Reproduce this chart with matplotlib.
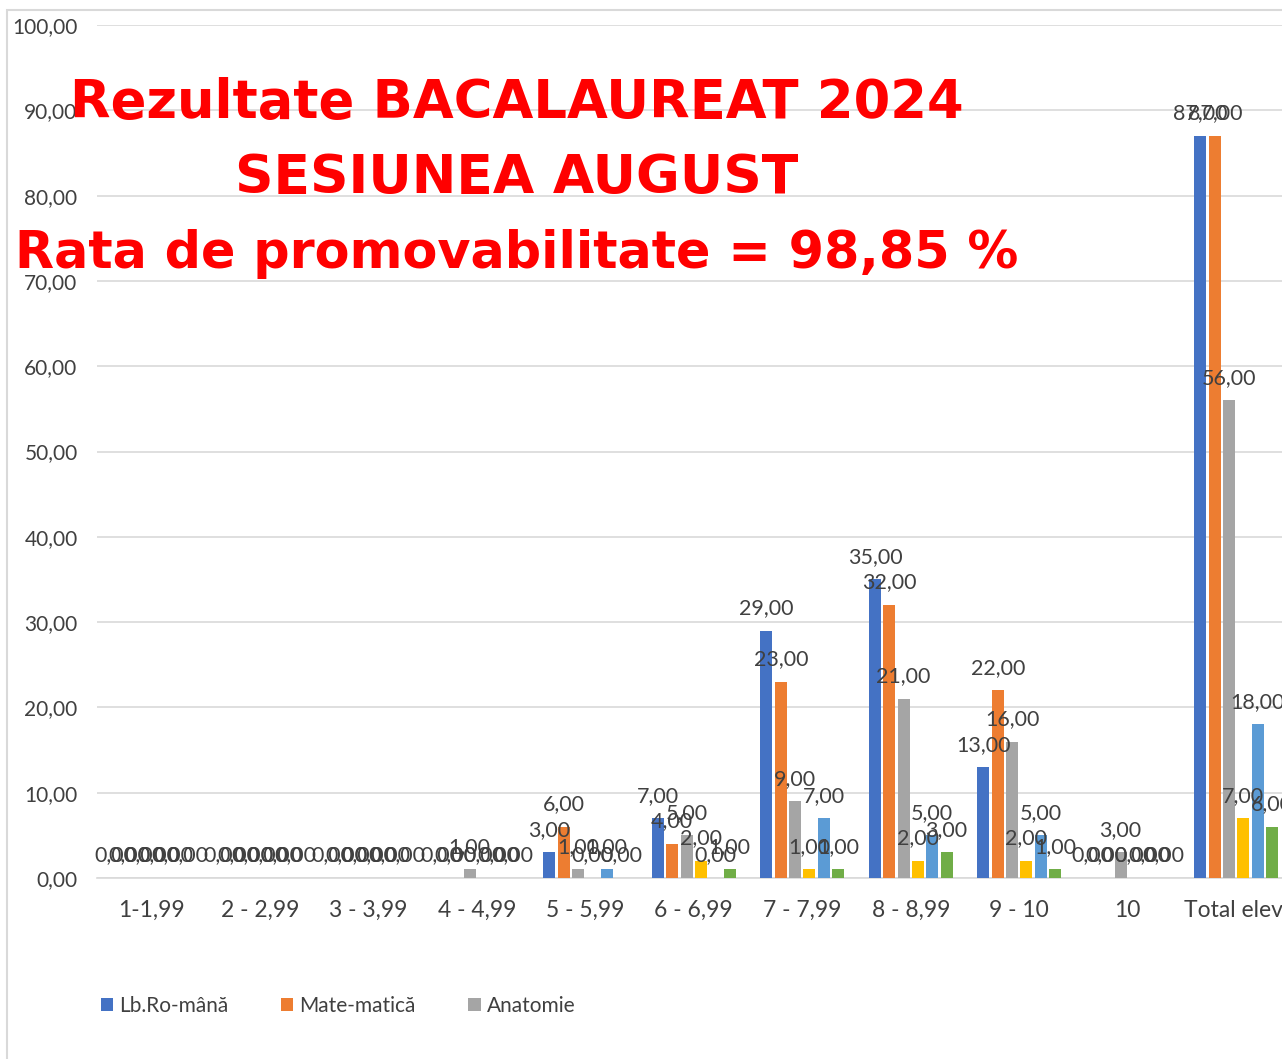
import matplotlib.pyplot as plt
import matplotlib.patches as mpatches
import numpy as np

# categorii si valori
categorii = ['1-1,99', '2 - 2,99', '3 - 3,99', '4 - 4,99', '5 - 5,99', '6 - 6,99',
             '7 - 7,99', '8 - 8,99', '9 - 10', '10', 'Total elevi']
lb_romana = [0, 0, 0, 0, 3, 7, 29, 35, 13, 0, 87]
mate = [0, 0, 0, 0, 6, 4, 23, 32, 22, 0, 87]
anatomie = [0, 0, 0, 1, 1, 5, 9, 21, 16, 3, 56]
serie4 = [0, 0, 0, 0, 0, 2, 1, 2, 2, 0, 7]
serie5 = [0, 0, 0, 0, 1, 0, 7, 5, 5, 0, 18]
serie6 = [0, 0, 0, 0, 0, 1, 1, 3, 1, 0, 6]

serii = [lb_romana, mate, anatomie, serie4, serie5, serie6]
nume = ['Lb.Ro-mână', 'Mate-matică', 'Anatomie', None, None, None]
culori = ['#4472C4', '#ED7D31', '#A5A5A5', '#FFC000', '#5B9BD5', '#70AD47']

W, H = 1282, 1059
fig = plt.figure(figsize=(W / 100, H / 100), dpi=100)

# chenarul graficului (doar stanga si sus se vad)
fig.patches.append(mpatches.Rectangle((7 / W, -0.05), 1.1, 1 - 10 / H + 0.05,
                                      transform=fig.transFigure, fill=False,
                                      edgecolor='#d9d9d9', linewidth=1.5))

ax = fig.add_axes([97 / W, (H - 878) / H, 1193.5 / W, 853 / H])
x = np.arange(len(categorii))
pas = 0.132
latime = 0.11
bare = []
for i, (vals, c) in enumerate(zip(serii, culori)):
    b = ax.bar(x + (i - 2.5) * pas, vals, latime, color=c, label=nume[i], zorder=3)
    bare.append(b)
    etichete = [f'{v:.2f}'.replace('.', ',') for v in vals]
    ax.bar_label(b, labels=etichete, padding=9, fontsize=15.5, color='#404040',
                 family='Lato', zorder=4)

ax.set_xlim(-0.5, len(categorii) - 0.5)
ax.set_ylim(0, 100)
ax.set_yticks(np.arange(0, 101, 10))
ax.set_yticklabels([f'{v:.2f}'.replace('.', ',') for v in np.arange(0, 101, 10)])
ax.set_xticks(x)
ax.set_xticklabels(categorii)
ax.tick_params(axis='y', length=0, pad=14, labelsize=15, labelcolor='#404040')
ax.tick_params(axis='x', length=0, pad=16, labelsize=16.5, labelcolor='#404040')
for lab in ax.get_xticklabels() + ax.get_yticklabels():
    lab.set_family('Lato')
ax.grid(axis='y', color='#d9d9d9', linewidth=1.2, zorder=0)
for s in ['top', 'right', 'left']:
    ax.spines[s].set_visible(False)
ax.spines['bottom'].set_color('#d9d9d9')
ax.spines['bottom'].set_linewidth(1.2)

# titlul rosu
cx = 517 / W
stil = dict(ha='center', va='baseline', fontweight='bold',
            color='#ff0000', family='DejaVu Sans', zorder=10)
fig.text(cx, 1 - 118 / H, 'Rezultate BACALAUREAT 2024', fontsize=38, **stil)
fig.text(cx, 1 - 193 / H, 'SESIUNEA AUGUST', fontsize=38.5, **stil)
fig.text(cx, 1 - 268 / H, 'Rata de promovabilitate = 98,85 %', fontsize=36.6, **stil)

leg = fig.legend(handles=bare[:3], loc='center left', bbox_to_anchor=(82 / W, 1 - 1006 / H),
                 ncol=3, frameon=False, handlelength=0.6, handleheight=0.6,
                 handletextpad=0.3, columnspacing=2.5, prop={'family': 'Lato', 'size': 15})
for t in leg.get_texts():
    t.set_color('#404040')

fig.savefig('out.png', dpi=100)
